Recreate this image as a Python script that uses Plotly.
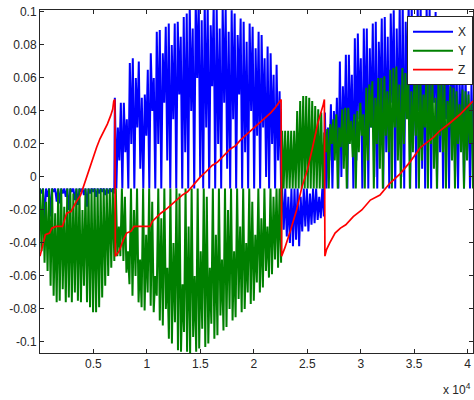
import numpy as np
import plotly.graph_objects as go

# ---------------- data ----------------
# X (blue): oscillating signal, four segments; each segment = alternating upper/lower turning points
x_a_range = [0, 6950]
x_a_high = [-0.007] * 25
x_a_low = [-0.010, -0.026, -0.012, -0.024, -0.009, -0.015, -0.016, -0.010, -0.012, -0.020,
           -0.009, -0.014, -0.017, -0.009, -0.011, -0.018, -0.010, -0.009, -0.012, -0.010,
           -0.009, -0.011, -0.010, -0.009, -0.010]

x_b_range = [7000, 22550]
x_b_high = [0.048, 0.030, 0.045, 0.045, 0.035, 0.069, 0.072, 0.060, 0.070, 0.048,
            0.050, 0.065, 0.075, 0.060, 0.088, 0.089, 0.075, 0.091, 0.093, 0.080,
            0.093, 0.094, 0.085, 0.097, 0.099, 0.104, 0.090, 0.106, 0.108, 0.095,
            0.107, 0.104, 0.092, 0.106, 0.103, 0.090, 0.104, 0.102, 0.088, 0.101,
            0.099, 0.086, 0.096, 0.094, 0.082, 0.093, 0.091, 0.078, 0.088, 0.086,
            0.072, 0.079, 0.075, 0.062, 0.068, 0.052]
x_b_low = [-0.007, 0.010, -0.007, 0.015, -0.007, 0.020, -0.007, 0.030, 0.005, -0.007,
           0.025, -0.007, 0.040, -0.007, 0.020, -0.007, 0.045, 0.010, -0.007, 0.035,
           -0.007, 0.050, -0.007, 0.015, -0.007, 0.040, -0.007, 0.060, 0.000, -0.007,
           0.030, -0.007, 0.055, -0.007, 0.020, -0.007, 0.045, 0.005, -0.007, 0.035,
           -0.007, 0.050, -0.007, 0.015, -0.007, 0.040, -0.007, 0.025, -0.007, 0.030,
           0.000, -0.007, 0.020, -0.007, 0.010, -0.007]

x_c_range = [22650, 26550]
x_c_high = [-0.007, -0.007, -0.012, -0.007, -0.007, -0.007, -0.012, -0.007, -0.007, -0.010,
            -0.007, -0.007, -0.012, -0.007]
x_c_low = [-0.032, -0.036, -0.040, -0.042, -0.038, -0.042, -0.033, -0.030, -0.033, -0.029,
           -0.028, -0.026, -0.025, -0.024]

x_d_range = [26650, 40500]
x_d_high = [0.039, 0.030, 0.044, 0.040, 0.048, 0.070, 0.055, 0.074, 0.074, 0.062,
            0.084, 0.087, 0.072, 0.090, 0.090, 0.078, 0.093, 0.094, 0.082, 0.096,
            0.097, 0.085, 0.099, 0.101, 0.090, 0.105, 0.107, 0.094, 0.106, 0.104,
            0.092, 0.105, 0.103, 0.090, 0.104, 0.102, 0.088, 0.100, 0.095, 0.082,
            0.086, 0.082, 0.070, 0.075, 0.072, 0.060, 0.065, 0.062, 0.052, 0.058]
x_d_low = [-0.007, 0.010, -0.007, 0.015, -0.007, 0.000, 0.020, -0.007, 0.025, -0.007,
           0.010, 0.035, -0.007, 0.020, -0.007, 0.030, 0.000, -0.007, 0.040, -0.007,
           0.015, -0.007, 0.045, -0.007, 0.020, 0.000, -0.007, 0.050, -0.007, 0.025,
           -0.007, 0.040, 0.005, -0.007, 0.030, -0.007, 0.045, -0.007, 0.015, -0.007,
           0.035, -0.007, 0.020, 0.000, -0.007, 0.025, -0.007, 0.015, -0.007, 0.010]

# Y (green): two segments
y_a_range = [0, 22550]
y_a_high = [-0.007, -0.007, -0.015, -0.007, -0.007, -0.022, -0.007, -0.007, -0.018, -0.007,
            -0.007, -0.010, -0.007, -0.007, -0.020, -0.007, -0.007, -0.007, -0.007, -0.007,
            -0.007, -0.007, -0.007, -0.007, -0.007,
            -0.007, -0.030, -0.007, -0.012, -0.045, -0.007, -0.020, -0.007, -0.050, -0.007,
            -0.035, -0.007, -0.015, -0.060, -0.007, -0.025, -0.007, -0.055, -0.007, -0.040,
            -0.007, -0.010, -0.065, -0.007, -0.030, -0.007, -0.060, -0.007, -0.045, -0.007,
            -0.012, -0.055, -0.007, -0.035, -0.007, -0.050, -0.007, -0.020, -0.007, -0.045,
            -0.007, -0.030, -0.007, -0.040, -0.007, -0.015, -0.035, -0.007, -0.025, -0.007,
            -0.030, -0.007, -0.012, -0.007, -0.007]
y_a_low = [-0.045, -0.052, -0.057, -0.066, -0.072, -0.076, -0.075, -0.068, -0.076, -0.073,
           -0.076, -0.070, -0.075, -0.076, -0.066, -0.076, -0.079, -0.082, -0.082, -0.079,
           -0.073, -0.066, -0.060, -0.055, -0.051, -0.048, -0.048, -0.051, -0.058, -0.065,
           -0.072, -0.060, -0.076, -0.079, -0.081, -0.070, -0.078, -0.082, -0.072, -0.087,
           -0.090, -0.080, -0.098, -0.101, -0.088, -0.105, -0.106, -0.094, -0.106, -0.107,
           -0.097, -0.106, -0.104, -0.092, -0.103, -0.101, -0.089, -0.098, -0.096, -0.084,
           -0.093, -0.091, -0.080, -0.087, -0.085, -0.074, -0.082, -0.080, -0.070, -0.077,
           -0.075, -0.064, -0.070, -0.067, -0.057, -0.061, -0.059, -0.050, -0.055, -0.052]

y_b_range = [22650, 40500]
y_b_high = [0.028, 0.028, 0.028, 0.028, 0.028, 0.040, 0.046, 0.049, 0.049, 0.048,
            0.046, 0.043, 0.041, 0.039, 0.027, 0.029, 0.032, 0.035, 0.038, 0.030,
            0.041, 0.042, 0.042, 0.034, 0.038, 0.040, 0.045, 0.038, 0.054, 0.056,
            0.058, 0.048, 0.060, 0.060, 0.061, 0.052, 0.065, 0.066, 0.067, 0.056,
            0.066, 0.063, 0.061, 0.052, 0.062, 0.064, 0.060, 0.050, 0.062, 0.060,
            0.058, 0.048, 0.060, 0.058, 0.056, 0.046, 0.055, 0.054, 0.052, 0.044,
            0.053, 0.052, 0.050, 0.045]
y_b_low = [-0.007] * 14 + [
    0.015, -0.007, 0.020, 0.010, -0.007, 0.018, 0.005, -0.007, 0.020, 0.012,
    -0.007, 0.015, 0.025, -0.007, 0.010, 0.030, -0.007, 0.020, 0.005, -0.007,
    0.025, 0.015, -0.007, 0.030, 0.010, -0.007, 0.020, 0.035, -0.007, 0.015,
    0.025, -0.007, 0.010, 0.030, -0.007, 0.020, 0.005, -0.007, 0.025, 0.015,
    -0.007, 0.030, 0.010, -0.007, 0.020, 0.015, -0.007, 0.010, 0.020, -0.007]

# Z (red): sawtooth with small steps
z_x = [0, 300, 500, 900, 1100, 1500, 2100, 2300, 2500, 2900, 3300, 3800, 4200, 4400, 4800,
       5300, 5600, 6000, 6300, 6600, 6800, 6900, 7000,
       7050, 7400, 7800, 8100, 8500, 8800, 9400, 10300, 10500, 11300, 11900, 12800, 13300,
       13800, 14200, 15000, 15500, 16100, 16600, 17200, 17800, 18300, 18700, 19200, 19900,
       20300, 20800, 21300, 21600, 22000, 22300, 22550,
       22600, 22900, 23400, 24000, 24500, 25000, 25500, 26000, 26500, 26600,
       26650, 26800, 27100, 27600, 28100, 28600, 29300, 30100, 30900, 31800, 32700, 33700,
       34600, 35600, 36800, 37400, 38400, 39300, 40200, 40500]
z_y = [-0.048, -0.040, -0.035, -0.034, -0.031, -0.030, -0.030, -0.026, -0.022, -0.021, -0.016,
       -0.011, -0.003, 0.000, 0.008, 0.018, 0.023, 0.028, 0.032, 0.037, 0.041, 0.046, 0.047,
       -0.048, -0.045, -0.038, -0.034, -0.033, -0.030, -0.030, -0.030, -0.027, -0.022, -0.019,
       -0.014, -0.011, -0.009, -0.006, 0.000, 0.003, 0.007, 0.009, 0.013, 0.017, 0.019, 0.022,
       0.025, 0.029, 0.031, 0.034, 0.037, 0.039, 0.042, 0.045, 0.047,
       -0.048, -0.043, -0.033, -0.020, -0.006, 0.004, 0.018, 0.033, 0.044, 0.047,
       -0.048, -0.044, -0.040, -0.034, -0.031, -0.029, -0.024, -0.020, -0.014, -0.011, -0.004,
       0.002, 0.009, 0.018, 0.024, 0.028, 0.033, 0.038, 0.044, 0.046]

x_tick_vals = [5000, 10000, 15000, 20000, 25000, 30000, 35000, 40000]
x_tick_text = ["0.5", "1", "1.5", "2", "2.5", "3", "3.5", "4"]
y_tick_vals = [-0.1, -0.08, -0.06, -0.04, -0.02, 0, 0.02, 0.04, 0.06, 0.08, 0.1]
y_tick_text = ["-0.1", "-0.08", "-0.06", "-0.04", "-0.02", "0", "0.02", "0.04", "0.06", "0.08", "0.1"]


def segment(rng, highs, lows):
    vals = []
    for h, l in zip(highs, lows):
        vals += [h, l]
    xs = np.linspace(rng[0], rng[1], len(vals))
    return list(xs), vals


def series(parts):
    xs, ys = [], []
    for rng, h, l in parts:
        a, b = segment(rng, h, l)
        xs += a
        ys += b
    return xs, ys


X_x, X_y = series([(x_a_range, x_a_high, x_a_low), (x_b_range, x_b_high, x_b_low),
                   (x_c_range, x_c_high, x_c_low), (x_d_range, x_d_high, x_d_low)])
Y_x, Y_y = series([(y_a_range, y_a_high, y_a_low), (y_b_range, y_b_high, y_b_low)])

FONT = "Liberation Sans, Arial, sans-serif"
AX = "#262626"

fig = go.Figure()
fig.add_trace(go.Scatter(x=X_x, y=X_y, mode="lines", name="X",
                         line=dict(color="rgb(0,0,255)", width=2)))
fig.add_trace(go.Scatter(x=Y_x, y=Y_y, mode="lines", name="Y",
                         line=dict(color="rgb(0,128,0)", width=2)))
fig.add_trace(go.Scatter(x=z_x, y=z_y, mode="lines", name="Z",
                         line=dict(color="rgb(255,0,0)", width=1.7)))

fig.update_layout(
    width=474, height=400,
    margin=dict(l=40, r=1, t=10, b=47, autoexpand=False),
    paper_bgcolor="white", plot_bgcolor="white",
    font=dict(family=FONT, size=12, color=AX),
    showlegend=True,
    legend=dict(x=1, xanchor="right", y=0.982, yanchor="top",
                bgcolor="white", bordercolor=AX, borderwidth=1,
                font=dict(family=FONT, size=12, color=AX),
                itemwidth=40, tracegroupgap=0),
    xaxis=dict(range=[0, 40500], tickvals=x_tick_vals, ticktext=x_tick_text,
               ticks="inside", ticklen=4, tickcolor=AX, showline=True, linecolor=AX,
               linewidth=1, mirror="ticks", showgrid=False, zeroline=False, automargin=False),
    yaxis=dict(range=[-0.1067, 0.1012], tickvals=y_tick_vals, ticktext=y_tick_text,
               ticks="inside", ticklen=4, tickcolor=AX, showline=True, linecolor=AX,
               linewidth=1, mirror="ticks", showgrid=False, zeroline=False, automargin=False),
    annotations=[dict(text="x 10<sup>4</sup>", xref="paper", yref="paper",
                      x=1, xanchor="right", xshift=0, y=-0.105, yanchor="middle",
                      showarrow=False, font=dict(family=FONT, size=12, color=AX))],
)

fig.write_html("out.html", config={"displayModeBar": False},
               post_script="document.body.style.margin='0';document.body.style.padding='0';")
